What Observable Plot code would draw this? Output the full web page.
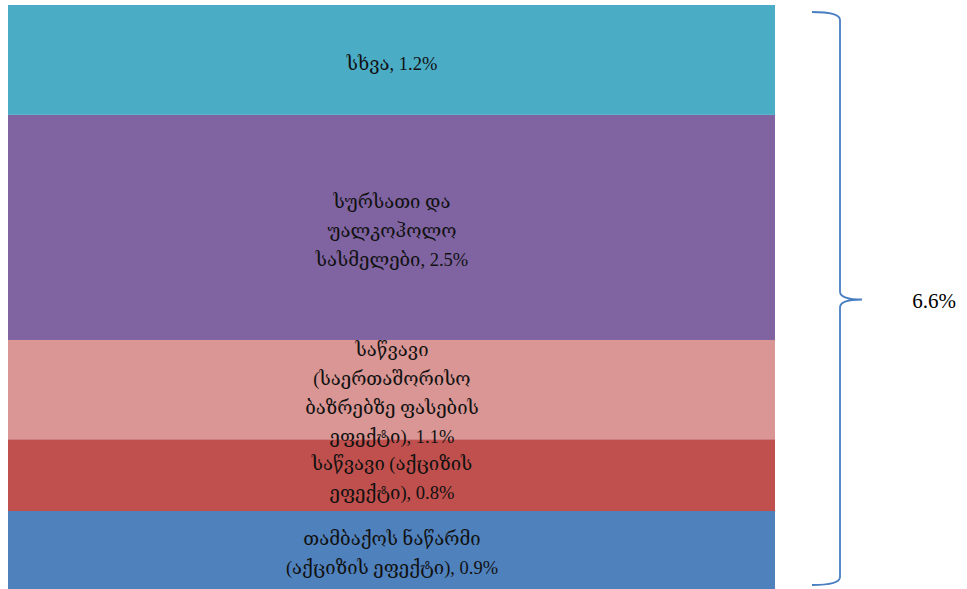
<!DOCTYPE html>
<html>
<head>
<meta charset="utf-8">
<script src="https://cdn.jsdelivr.net/npm/d3@7"></script>
<script src="https://cdn.jsdelivr.net/npm/@observablehq/plot@0.6"></script>
<style>
  html, body { margin: 0; padding: 0; background: #fff; }
  #chart svg { display: block; }
</style>
</head>
<body>
<div id="chart"></div>
<script>
const categories = [
  "თამბაქოს ნაწარმი (აქციზის ეფექტი)",
  "საწვავი (აქციზის ეფექტი)",
  "საწვავი (საერთაშორისო ბაზრებზე ფასების ეფექტი)",
  "სურსათი და უალკოჰოლო სასმელები",
  "სხვა"
];
// unrounded contributions (labels show rounded values)
const values = [0.88, 0.81, 1.12, 2.54, 1.24];
const labels = [
  "თამბაქოს ნაწარმი\n(აქციზის ეფექტი), 0.9%",
  "საწვავი (აქციზის\nეფექტი), 0.8%",
  "საწვავი\n(საერთაშორისო\nბაზრებზე ფასების\nეფექტი), 1.1%",
  "სურსათი და\nუალკოჰოლო\nსასმელები, 2.5%",
  "სხვა, 1.2%"
];
const colors = ["#4F81BD", "#C0504D", "#D99694", "#8064A2", "#4BACC6"];
const totalLabel = "6.6%";

const data = categories.map((c, i) => ({group: "CPI", category: c, value: values[i], label: labels[i]}));
const total = d3.sum(values);
const font = "'Liberation Serif', 'DejaVu Serif', serif";

function brace(index, scales, vals, dims) {
  const svg = d3.create("svg:g");
  const yTop = scales.y(total) + 7;
  const yBot = scales.y(0) - 4;
  const yMid = (yTop + yBot) / 2 + 1;
  const xBar = dims.width - dims.marginRight;
  const x0 = xBar + 37, x1 = xBar + 65, xt = xBar + 87;
  const r = 8;
  const path = [
    `M${x0},${yTop}`,
    `Q${x1},${yTop} ${x1},${yTop + r}`,
    `L${x1},${yMid - r}`,
    `Q${x1},${yMid} ${xt},${yMid}`,
    `Q${x1},${yMid} ${x1},${yMid + r}`,
    `L${x1},${yBot - r}`,
    `Q${x1},${yBot} ${x0},${yBot}`
  ].join(" ");
  svg.append("path").attr("d", path).attr("fill", "none").attr("stroke", "#4A7EC2").attr("stroke-width", 1.8);
  svg.append("text").attr("x", xBar + 159).attr("y", yMid + 4)
    .attr("text-anchor", "middle").attr("dominant-baseline", "middle")
    .attr("font-family", font).attr("font-size", 21).attr("fill", "#000").text(totalLabel);
  return svg.node();
}

const chart = Plot.plot({
  width: 967,
  height: 589,
  marginLeft: 8,
  marginRight: 192,
  marginTop: 5,
  marginBottom: 0,
  x: {axis: null, padding: 0},
  y: {axis: null, domain: [0, total]},
  color: {domain: categories, range: colors},
  style: {fontFamily: font, background: "#fff"},
  marks: [
    Plot.barY(data, Plot.stackY({x: "group", y: "value", fill: "category", order: null})),
    Plot.text(data, Plot.stackY({x: "group", y: "value", text: "label", order: null,
      fontSize: 18.5, lineHeight: 1.56, fill: "#111", fontFamily: font})),
    brace
  ]
});
document.getElementById("chart").appendChild(chart);
</script>
</body>
</html>
